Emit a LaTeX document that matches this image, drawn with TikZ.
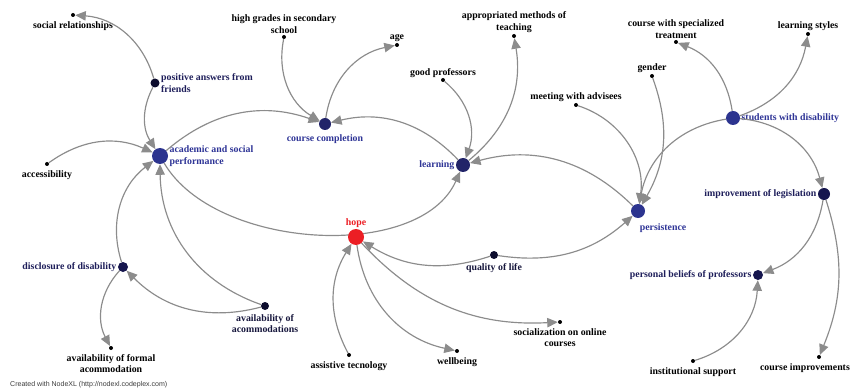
\documentclass[tikz,border=0pt]{standalone}
\usepackage{fontspec}
\setmainfont{Liberation Serif}
\newfontfamily\footfont{Liberation Sans}
\usetikzlibrary{arrows.meta}

\definecolor{linkgray}{RGB}{140,140,140}
\definecolor{hubblue}{RGB}{44,52,143}
\definecolor{hubnavy}{RGB}{34,36,105}
\definecolor{hubdark}{RGB}{22,22,78}
\definecolor{hubink}{RGB}{12,12,45}
\definecolor{hopered}{RGB}{236,30,36}
\definecolor{textblue}{RGB}{46,52,150}
\definecolor{textnavy}{RGB}{30,30,90}
\definecolor{textink}{RGB}{22,22,60}
\definecolor{footgray}{RGB}{60,60,60}

\begin{document}
\begin{tikzpicture}[x=0.03cm,y=0.03cm,
        every label/.style={font=\fontsize{8.4}{9.8}\selectfont\bfseries,inner sep=1pt,align=center},
        leaf/.style={circle,fill=black,inner sep=0pt,minimum size=0.12cm},
        hub/.style={circle,fill=#1,inner sep=0pt},
        link/.style={draw=linkgray,line width=1pt,-{Triangle[length=9pt,width=8pt]}},
        lo/.style={yshift=-2.5pt},
        tblue/.style={text=textblue},
        tnavy/.style={text=textnavy},
        tink/.style={text=textink}]
    \useasboundingbox (0,0) rectangle (852,390);

    % left part
    \node[leaf,label={[lo]below:social relationships}] (socrel) at (73,375) {};
    \node[hub=hubink,minimum size=0.27cm,label={[tnavy,align=left]right:positive answers from\\friends}] (posans) at (155,307) {};
    \node[hub=hubblue,minimum size=0.48cm,label={[tblue,align=left]right:academic and social\\performance}] (acad) at (160,234) {};
    \node[leaf,label={[lo]below:accessibility}] (access) at (47,226) {};
    \node[hub=hubdark,minimum size=0.30cm,label={[tnavy]left:disclosure of disability}] (disclosure) at (123,123) {};
    \node[hub=hubink,minimum size=0.24cm,label={[tink,lo]below:availability of\\acommodations}] (availacc) at (265,84) {};
    \node[leaf,label={[lo]below:availability of formal\\acommodation}] (availformal) at (111,42) {};

    % top middle
    \node[leaf,label={above:high grades in secondary\\school}] (highgr) at (284,353) {};
    \node[leaf,label=above:age] (age) at (397,345) {};
    \node[hub=hubnavy,minimum size=0.36cm,label={[tblue,lo]below:course completion}] (coursec) at (325,266) {};
    \node[leaf,label={above:appropriated methods of\\teaching}] (approp) at (514,354) {};
    \node[leaf,label={[yshift=-1.5pt]above:good professors}] (goodprof) at (443,310) {};
    \node[hub=hubnavy,minimum size=0.42cm,label={[tblue]left:learning}] (learning) at (463,225) {};

    % right part
    \node[leaf,label=above:meeting with advisees] (meeting) at (576,285) {};
    \node[leaf,label=above:gender] (gender) at (652,314) {};
    \node[leaf,label={above:course with specialized\\treatment}] (coursespec) at (676,348) {};
    \node[leaf,label=above:learning styles] (learnstyles) at (808,356) {};
    \node[hub=hubblue,minimum size=0.42cm,label={[tblue]right:students with disability}] (students) at (733,272) {};
    \node[hub=hubblue,minimum size=0.42cm,label={[tblue,xshift=-4pt,yshift=-5pt]below right:persistence}] (persistence) at (638,179) {};
    \node[hub=hubdark,minimum size=0.36cm,label={[tnavy]left:improvement of legislation}] (improv) at (824,196) {};
    \node[hub=hubdark,minimum size=0.30cm,label={[tnavy]left:personal beliefs of professors}] (beliefs) at (758,115) {};
    \node[leaf,label={[lo]below:institutional support}] (institutional) at (693,29) {};
    \node[leaf,label={[lo,xshift=-12pt]below:course improvements}] (courseimpr) at (819,33) {};

    % bottom middle
    \node[hub=hubink,minimum size=0.24cm,label={[tink,lo]below:quality of life}] (quality) at (494,135) {};
    \node[leaf,label={[lo]below:assistive tecnology}] (assistive) at (349,35) {};
    \node[leaf,label={[lo]below:wellbeing}] (wellbeing) at (457,39) {};
    \node[leaf,label={[lo]below:socialization on online\\courses}] (socialonline) at (560,68) {};

    % this one runs under hope, so hope comes after it
    \draw[link] (acad) .. controls (215,140) and (420,128) .. (learning);
    \node[hub=hopered,minimum size=0.48cm,label={[text=hopered]above:hope}] (hope) at (356,153) {};

    \draw[link] (posans) to[bend right=35] (socrel);
    \draw[link] (posans) to[bend right=30] (acad);
    \draw[link] (access) to[bend left=30] (acad);
    \draw[link] (disclosure) to[bend left=35] (acad);
    \draw[link] (disclosure) to[bend right=35] (availformal);
    \draw[link] (availacc) to[bend left=30] (disclosure);
    \draw[link] (availacc) to[bend left=35] (acad);
    \draw[link] (acad) to[bend left=30] (coursec);
    \draw[link] (highgr) to[bend right=35] (coursec);
    \draw[link] (coursec) to[bend left=35] (age);
    \draw[link] (learning) to[bend right=30] (coursec);
    \draw[link] (goodprof) to[bend left=35] (learning);
    \draw[link] (learning) to[bend right=30] (approp);
    \draw[link] (persistence) to[bend right=30] (learning);
    \draw[link] (quality) to[bend left=25] (hope);
    \draw[link] (quality) to[bend right=25] (persistence);
    \draw[link] (hope) to[bend right=35] (wellbeing);
    \draw[link] (hope) to[bend right=25] (socialonline);
    \draw[link] (assistive) to[bend left=30] (hope);
    \draw[link] (meeting) to[bend left=40] (persistence);
    \draw[link] (gender) to[bend left=25] (persistence);
    \draw[link] (students) to[bend right=35] (persistence);
    \draw[link] (students) to[bend right=30] (coursespec);
    \draw[link] (students) to[bend right=30] (learnstyles);
    \draw[link] (students) to[bend left=35] (improv);
    \draw[link] (improv) to[bend left=30] (beliefs);
    \draw[link] (improv) to[bend left=20] (courseimpr);
    \draw[link] (institutional) to[bend right=35] (beliefs);

    \node[font=\footfont\fontsize{6}{7}\selectfont,text=footgray,anchor=west,inner sep=0pt] (credit) at (10,5) {Created with NodeXL (http://nodexl.codeplex.com)};
\end{tikzpicture}
\end{document}
